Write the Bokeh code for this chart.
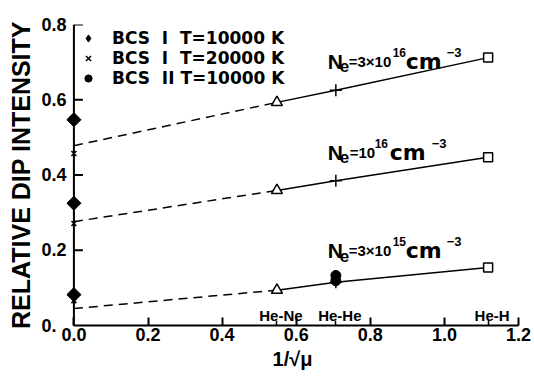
from bokeh.plotting import figure
from bokeh.models import Range1d, FixedTicker, NumeralTickFormatter, Legend, LegendItem, Label
from bokeh.embed import file_html
from bokeh.resources import INLINE
import math

# ---------------- data ----------------
pair_names = ["He-Ne", "He-He", "He-H"]
inv_sqrt_mu = [0.548, 0.707, 1.118]          # 1/sqrt(mu) for He-Ne, He-He, He-H
x_limit = 0.0                                 # 1/sqrt(mu) -> 0 (infinite mass limit)

ne_3e16 = [0.593, 0.625, 0.712]
ne_1e16 = [0.359, 0.385, 0.447]
ne_3e15 = [0.094, 0.115, 0.154]
extrap_3e16 = 0.478
extrap_1e16 = 0.276
extrap_3e15 = 0.045

bcs1_t10000 = [0.547, 0.325, 0.082]
bcs1_t20000 = [0.457, 0.271, 0.066]
bcs2_t10000 = [0.133, 0.119]

x_ticks = [0.0, 0.2, 0.4, 0.6, 0.8, 1.0, 1.2]
y_ticks = [0.0, 0.2, 0.4, 0.6, 0.8]

# ---------------- figure ----------------
X0, X1, Y0, Y1 = -0.02, 1.2, 0.0, 0.8
FW, FH = 452, 301
p = figure(frame_width=FW, frame_height=FH,
           x_range=Range1d(X0, X1), y_range=Range1d(Y0, Y1),
           output_backend="svg", toolbar_location=None,
           min_border_left=66, min_border_right=16,
           min_border_top=24, min_border_bottom=58)
p.outline_line_color = None
p.grid.visible = False
p.background_fill_color = "white"
p.border_fill_color = "white"

TICK_FONT = "Liberation Sans"

xa = p.xaxis[0]
xa.ticker = FixedTicker(ticks=x_ticks, minor_ticks=inv_sqrt_mu)
xa.formatter = NumeralTickFormatter(format="0.0")
xa.bounds = (0.0, 1.2)
xa.axis_line_width = 2
xa.axis_line_color = "black"
xa.major_tick_in = 8
xa.major_tick_out = 0
xa.major_tick_line_width = 2
xa.minor_tick_in = 5
xa.minor_tick_out = 0
xa.minor_tick_line_width = 1.5
xa.major_label_text_font = TICK_FONT
xa.major_label_text_font_size = "18px"
xa.major_label_text_font_style = "bold"
xa.major_label_text_color = "black"
xa.major_label_standoff = 2
xa.axis_label = "1/√μ"
xa.axis_label_text_font = TICK_FONT
xa.axis_label_text_font_size = "20px"
xa.axis_label_text_font_style = "bold"
xa.axis_label_text_color = "black"
xa.axis_label_standoff = 4

ya = p.yaxis[0]
ya.ticker = FixedTicker(ticks=y_ticks)
ya.formatter = NumeralTickFormatter(format="0.0")
ya.major_label_overrides = {0: "0.\u2007"}
ya.axis_line_color = None
ya.major_tick_line_color = None
ya.minor_tick_line_color = None
ya.major_tick_in = 0
ya.major_tick_out = 0
ya.major_label_standoff = 0
ya.major_label_text_font = TICK_FONT
ya.major_label_text_font_size = "18px"
ya.major_label_text_font_style = "bold"
ya.major_label_text_color = "black"
ya.axis_label = "RELATIVE DIP INTENSITY"
ya.axis_label_text_font = TICK_FONT
ya.axis_label_text_font_size = "25px"
ya.axis_label_text_font_style = "bold"
ya.axis_label_text_color = "black"
ya.axis_label_standoff = 3

# y axis drawn at x = 0 (line + inward ticks)
px_per_x = FW / (X1 - X0)
tick_len = 9 / px_per_x
p.segment(x0=[x_limit], y0=[Y0], x1=[x_limit], y1=[Y1], line_color="black", line_width=2)
p.segment(x0=[x_limit] * (len(y_ticks) - 1), y0=y_ticks[1:],
          x1=[x_limit + tick_len] * (len(y_ticks) - 1), y1=y_ticks[1:],
          line_color="black", line_width=2)

# ---------------- series ----------------
for ys, ex in [(ne_3e16, extrap_3e16), (ne_1e16, extrap_1e16), (ne_3e15, extrap_3e15)]:
    p.line([x_limit, inv_sqrt_mu[0]], [ex, ys[0]], line_color="black", line_width=1.5, line_dash="9 6")
    p.line(inv_sqrt_mu, ys, line_color="black", line_width=1.5)

tri_y = [ne_3e16[0], ne_1e16[0], ne_3e15[0]]
plus_y = [ne_3e16[1], ne_1e16[1], ne_3e15[1]]
sq_y = [ne_3e16[2], ne_1e16[2], ne_3e15[2]]
p.scatter([inv_sqrt_mu[0]] * 3, tri_y, marker="triangle", size=11,
          fill_color="white", line_color="black", line_width=1.5)
p.scatter([inv_sqrt_mu[1]] * 3, plus_y, marker="cross", size=12,
          line_color="black", line_width=1.5)
p.scatter([inv_sqrt_mu[2]] * 3, sq_y, marker="square", size=9,
          fill_color="white", line_color="black", line_width=1.5)

# BCS I, T=10000 K: diamond key (used by the legend) under a wider filled diamond
r_dia = p.scatter([x_limit] * 3, bcs1_t10000, marker="diamond", size=13,
                  fill_color="black", line_color="black")
p.scatter([x_limit] * 3, bcs1_t10000, marker="square", angle=math.pi / 4, size=10,
          fill_color="black", line_color="black")
r_x = p.scatter([x_limit] * 3, bcs1_t20000, marker="x", size=7,
                line_color="black", line_width=1.5)
r_dot = p.scatter([inv_sqrt_mu[1]] * 2, bcs2_t10000, marker="circle", size=10,
                  fill_color="black", line_color="black")

# collision pair labels above axis
p.text(x=inv_sqrt_mu, y=[0.027] * 3, text=pair_names, text_align="center", x_offset=4,
       text_baseline="alphabetic", text_font_size="15px", text_font_style="bold",
       text_color="black", text_font={"value": TICK_FONT})

# ---------------- legend ----------------
legend = Legend(items=[
    LegendItem(label="BCS  I  T=10000 K", renderers=[r_dia]),
    LegendItem(label="BCS  I  T=20000 K", renderers=[r_x]),
    LegendItem(label="BCS  II T=10000 K", renderers=[r_dot]),
], location=(12, 237), padding=0, margin=0, spacing=-2,
    glyph_width=20, glyph_height=18, label_standoff=14,
    label_text_font="DejaVu Sans", label_text_font_size="17px",
    label_text_font_style="bold", label_text_color="black",
    background_fill_alpha=0, border_line_color=None)
p.add_layout(legend)

# ---------------- Ne annotations ----------------
def add_ne(x, y, parts):
    for text, dx, dy, size, font in parts:
        p.add_layout(Label(x=x, y=y, x_offset=dx, y_offset=dy, text=text,
                           text_font=font, text_font_size=size, text_font_style="bold",
                           text_color="black", text_baseline="alphabetic", text_align="left"))

L, D = TICK_FONT, "DejaVu Sans"
ANN_X = 0.685
add_ne(ANN_X, 0.702, [("N", 0, 0, "21px", L), ("e", 12, -5, "17px", L), ("=3×10", 21, 0, "15px", L),
                      ("16", 65, 9, "12px", L), ("cm", 78, 0, "22px", D), ("−3", 119, 9, "13px", L)])
add_ne(ANN_X, 0.460, [("N", 0, 0, "21px", L), ("e", 12, -5, "17px", L), ("=10", 22, 0, "15px", L),
                      ("16", 47, 9, "12px", L), ("cm", 62, 0, "22px", D), ("−3", 104, 9, "13px", L)])
add_ne(ANN_X, 0.199, [("N", 0, 0, "21px", L), ("e", 12, -5, "17px", L), ("=3×10", 21, 0, "15px", L),
                      ("15", 65, 9, "12px", L), ("cm", 78, 0, "22px", D), ("−3", 119, 9, "13px", L)])

open("out.html", "w").write(file_html(p, INLINE))
